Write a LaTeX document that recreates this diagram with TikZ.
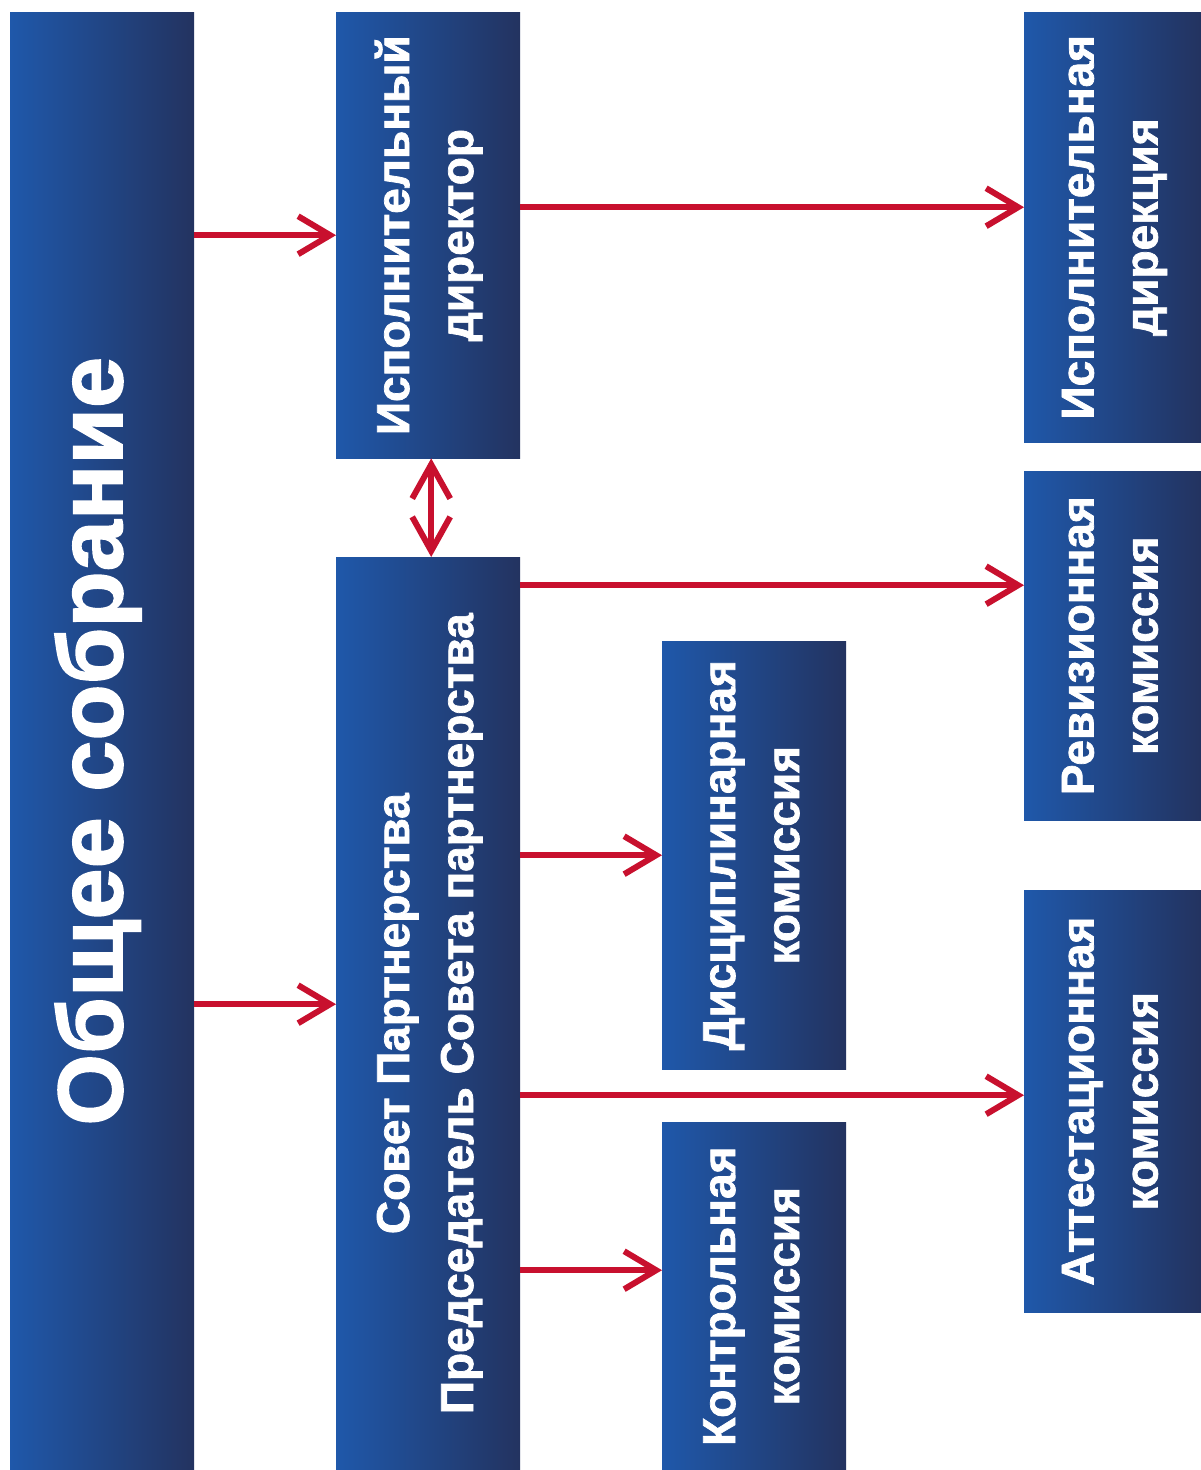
\documentclass[tikz,border=0pt]{standalone}
\usepackage{fontspec}
\setmainfont{Liberation Sans}[BoldFeatures={FakeBold=1.6}]
\usetikzlibrary{arrows.meta,calc}
\definecolor{boxL}{RGB}{31,88,170}
\definecolor{boxR}{RGB}{35,51,96}
\definecolor{arrred}{RGB}{200,16,46}
\newcommand{\vtext}[1]{\rotatebox{90}{\begin{tabular}{@{}c@{}}#1\end{tabular}}}
\begin{document}
\begin{tikzpicture}[x=1pt,y=-1pt,
  box/.style={rectangle, inner sep=0pt, anchor=north west, left color=boxL, right color=boxR,
    text=white, font=\bfseries\fontsize{46}{64}\selectfont},
  bigbox/.style={box, font=\bfseries\fontsize{92}{100}\selectfont},
  conn/.style={draw=arrred, line width=6pt, -{Straight Barb[length=32pt,width=38pt,line width=6pt]}},
  dconn/.style={draw=arrred, line width=6pt, {Straight Barb[length=34pt,width=38pt,line width=6pt]}-{Straight Barb[length=34pt,width=38pt,line width=6pt]}}
]
\useasboundingbox[fill=white] (0,0) rectangle (1201,1470);

\node[bigbox, minimum width=184pt, minimum height=1458pt] (obs) at (10,12) {\vtext{Общее собрание}};
\node[box, minimum width=184pt, minimum height=446pt] (id) at (336,12) {\vtext{Исполнительный\\директор}};
\node[box, minimum width=184pt, minimum height=913pt] (sov) at (336,557) {\vtext{Совет Партнерства\\Председатель Совета партнерства}};
\node[box, minimum width=177pt, minimum height=430pt] (dir) at (1024,12) {\vtext{Исполнительная\\дирекция}};
\node[box, minimum width=177pt, minimum height=349pt] (rev) at (1024,471) {\vtext{Ревизионная\\комиссия}};
\node[box, minimum width=184pt, minimum height=428pt] (disc) at (662,641) {\vtext{Дисциплинарная\\комиссия}};
\node[box, minimum width=177pt, minimum height=422pt] (att) at (1024,890) {\vtext{Аттестационная\\комиссия}};
\node[box, minimum width=184pt, minimum height=348pt] (kon) at (662,1122) {\vtext{Контрольная\\комиссия}};

\coordinate (s1) at ([yshift=9.5pt]sov.west);
\coordinate (d1) at ([yshift=20pt]dir.west);
\coordinate (r1) at ([yshift=60.5pt]rev.west);
\coordinate (a1) at ([yshift=6pt]att.west);
\coordinate (k1) at ([yshift=26pt]kon.west);
\coordinate (u1) at ([xshift=3pt]id.south);
\coordinate (u2) at ([xshift=3pt]sov.north);

\draw[conn] (obs.east |- id.west) -- (id.west);
\draw[conn] (obs.east |- s1) -- (s1);
\draw[conn] (id.east |- d1) -- (d1);
\draw[dconn] (u1) -- (u2);
\draw[conn] (sov.east |- r1) -- (r1);
\draw[conn] (sov.east |- disc.west) -- (disc.west);
\draw[conn] (sov.east |- a1) -- (a1);
\draw[conn] (sov.east |- k1) -- (k1);
\end{tikzpicture}
\end{document}
